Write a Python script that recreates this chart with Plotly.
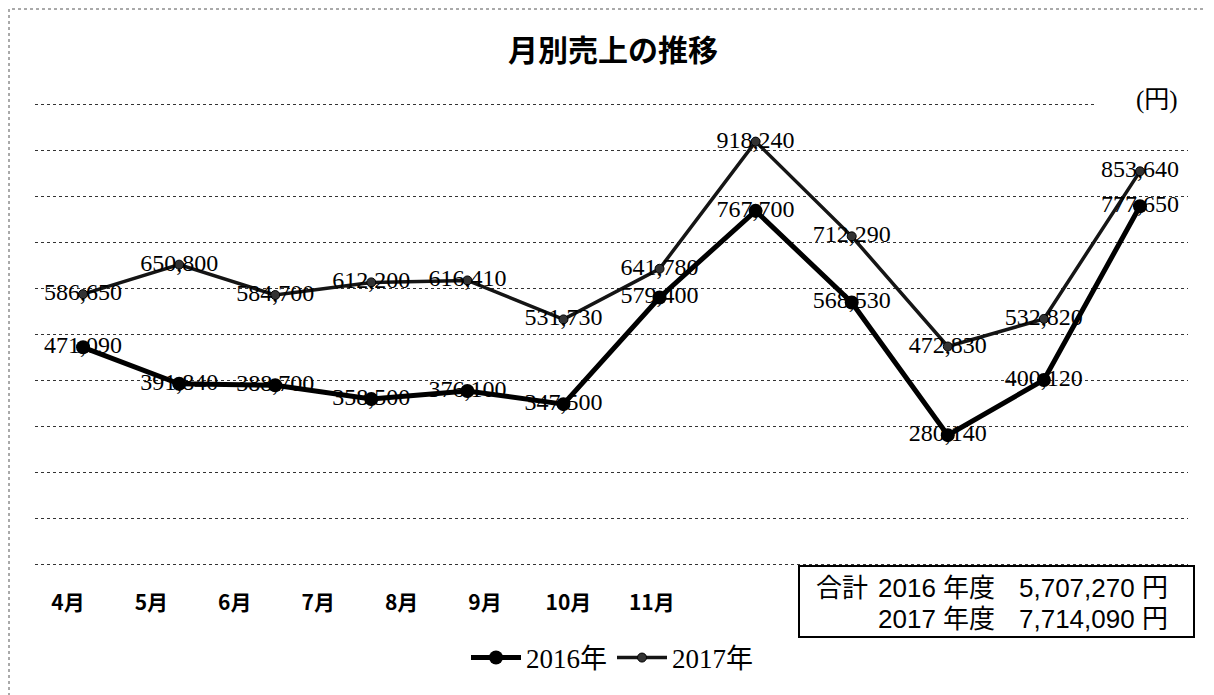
import plotly.graph_objects as go

# ---- data ----
months = ["4月", "5月", "6月", "7月", "8月", "9月", "10月", "11月", "12月", "1月", "2月", "3月"]
sales_2016 = [471090, 391840, 388700, 358500, 376100, 347500, 579400, 767700, 568530, 280140, 400120, 777650]
sales_2017 = [586650, 650800, 584700, 612200, 616410, 531730, 641780, 918240, 712290, 472830, 532820, 853640]
series_names = ["2016年", "2017年"]
axis_labels = months[:8]
y_ticks = list(range(0, 1000001, 100000))
title_text = "月別売上の推移"
unit_text = "(円)"

# ---- geometry (reference-pixel coordinates; page body adds an 8px offset) ----
OFF = 8
W, H = 1214 - OFF, 695 - OFF
PL, PR, PT, PB = 35, 1188, 100, 566          # plot area in reference pixels
Y0_PIX, Y1_PIX = 564, 104                   # where 0 and 1,000,000 fall
PW = PR - PL
PH = PB - PT
scale = 1000000 / (Y0_PIX - Y1_PIX)
y_range = [-(PB - Y0_PIX) * scale, 1000000 + (Y1_PIX - PT) * scale]


def px(x):
    return (x - PL) / PW


def py(y):
    return (PB - y) / PH


fig = go.Figure()

fig.add_trace(go.Scatter(
    x=months, y=sales_2016, mode="lines+markers", name=series_names[0],
    line=dict(color="#000000", width=5),
    marker=dict(size=14, color="#000000"),
    hoverinfo="skip"))
fig.add_trace(go.Scatter(
    x=months, y=sales_2017, mode="lines+markers", name=series_names[1],
    line=dict(color="#151515", width=3.5),
    marker=dict(size=9, color="#333333", line=dict(color="#000000", width=1)),
    hoverinfo="skip"))

label_font = dict(family="Liberation Serif, Times New Roman, serif", size=24, color="#000000")
for vals in (sales_2016, sales_2017):
    fig.add_trace(go.Scatter(
        x=months, y=vals, mode="text", text=[f"{v:,}" for v in vals],
        textposition="middle center", textfont=label_font,
        showlegend=False, hoverinfo="skip"))

# placeholder trace so the month-label axis is drawn
fig.add_trace(go.Scatter(x=[None], y=[None], xaxis="x2", yaxis="y", mode="markers",
                         showlegend=False, hoverinfo="skip"))

label_step = 83.4
r0 = -(68 - PL) / label_step
r1 = r0 + PW / label_step

fig.update_layout(
    width=W, height=H,
    margin=dict(l=PL - OFF, r=W - (PR - OFF), t=PT - OFF, b=H - (PB - OFF), pad=0, autoexpand=False),
    paper_bgcolor="white", plot_bgcolor="white",
    title=dict(text=title_text, x=px(613), xref="paper", xanchor="center",
               y=1 - (50 - OFF) / H, yref="container", yanchor="middle",
               font=dict(family="Noto Sans CJK JP", size=30, color="#000000", weight="bold")),
    xaxis=dict(type="category", categoryorder="array", categoryarray=months,
               range=[-0.5, len(months) - 0.5], showticklabels=False, automargin=False,
               showgrid=False, zeroline=False, showline=False, ticks=""),
    xaxis2=dict(overlaying="x", anchor="y", side="bottom", range=[r0, r1], automargin=False,
                tickmode="array", tickvals=list(range(len(axis_labels))), ticktext=axis_labels,
                showgrid=False, zeroline=False, showline=False,
                ticks="outside", ticklen=18, tickcolor="rgba(0,0,0,0)",
                tickfont=dict(family="Noto Sans CJK JP", size=21, color="#000000", weight=600)),
    yaxis=dict(range=y_range, tickmode="array", tickvals=y_ticks, automargin=False,
               showticklabels=False, showgrid=True, gridcolor="#333333",
               griddash="dot", gridwidth=1, zeroline=False, showline=False, ticks=""),
    legend=dict(orientation="h", x=px(612), xanchor="center", y=py(658), yanchor="middle",
                font=dict(family="Liberation Serif, Noto Sans CJK JP", size=27, color="#000000"),
                bgcolor="rgba(0,0,0,0)", itemwidth=50),
    showlegend=True,
)

box_font = dict(family="Liberation Sans, Arial, Noto Sans CJK JP", size=26, color="#000000")
fig.update_layout(
    shapes=[
        # outer dotted border
        dict(type="rect", xref="paper", yref="paper", x0=px(9), x1=px(1212), y0=py(705), y1=py(9),
             line=dict(color="#555555", width=1, dash="dot"), fillcolor="rgba(0,0,0,0)", layer="above"),
        # white cover behind unit label on top gridline
        dict(type="rect", xref="paper", yref="paper", x0=px(1097), x1=px(1195), y0=py(115), y1=py(88),
             line=dict(width=0), fillcolor="white", layer="above"),
        # totals box
        dict(type="rect", xref="paper", yref="paper", x0=px(799), x1=px(1194), y0=py(637), y1=py(566),
             line=dict(color="#000000", width=2), fillcolor="white", layer="above"),
    ],
    annotations=[
        dict(text=unit_text, xref="paper", yref="paper", x=px(1157), y=py(100),
             xanchor="center", yanchor="middle", showarrow=False,
             font=dict(family="Liberation Serif, Noto Sans CJK JP", size=25, color="#000000")),
        dict(text="合計", xref="paper", yref="paper", x=px(814), y=py(588),
             xanchor="left", yanchor="middle", showarrow=False, font=box_font),
        dict(text="2016 年度", xref="paper", yref="paper", x=px(876), y=py(588),
             xanchor="left", yanchor="middle", showarrow=False, font=box_font),
        dict(text=f"{sum(sales_2016):,} 円", xref="paper", yref="paper", x=px(1170), y=py(588),
             xanchor="right", yanchor="middle", showarrow=False, font=box_font),
        dict(text="2017 年度", xref="paper", yref="paper", x=px(876), y=py(619),
             xanchor="left", yanchor="middle", showarrow=False, font=box_font),
        dict(text=f"{sum(sales_2017):,} 円", xref="paper", yref="paper", x=px(1170), y=py(619),
             xanchor="right", yanchor="middle", showarrow=False, font=box_font),
    ],
)

fig.write_html("out.html")
